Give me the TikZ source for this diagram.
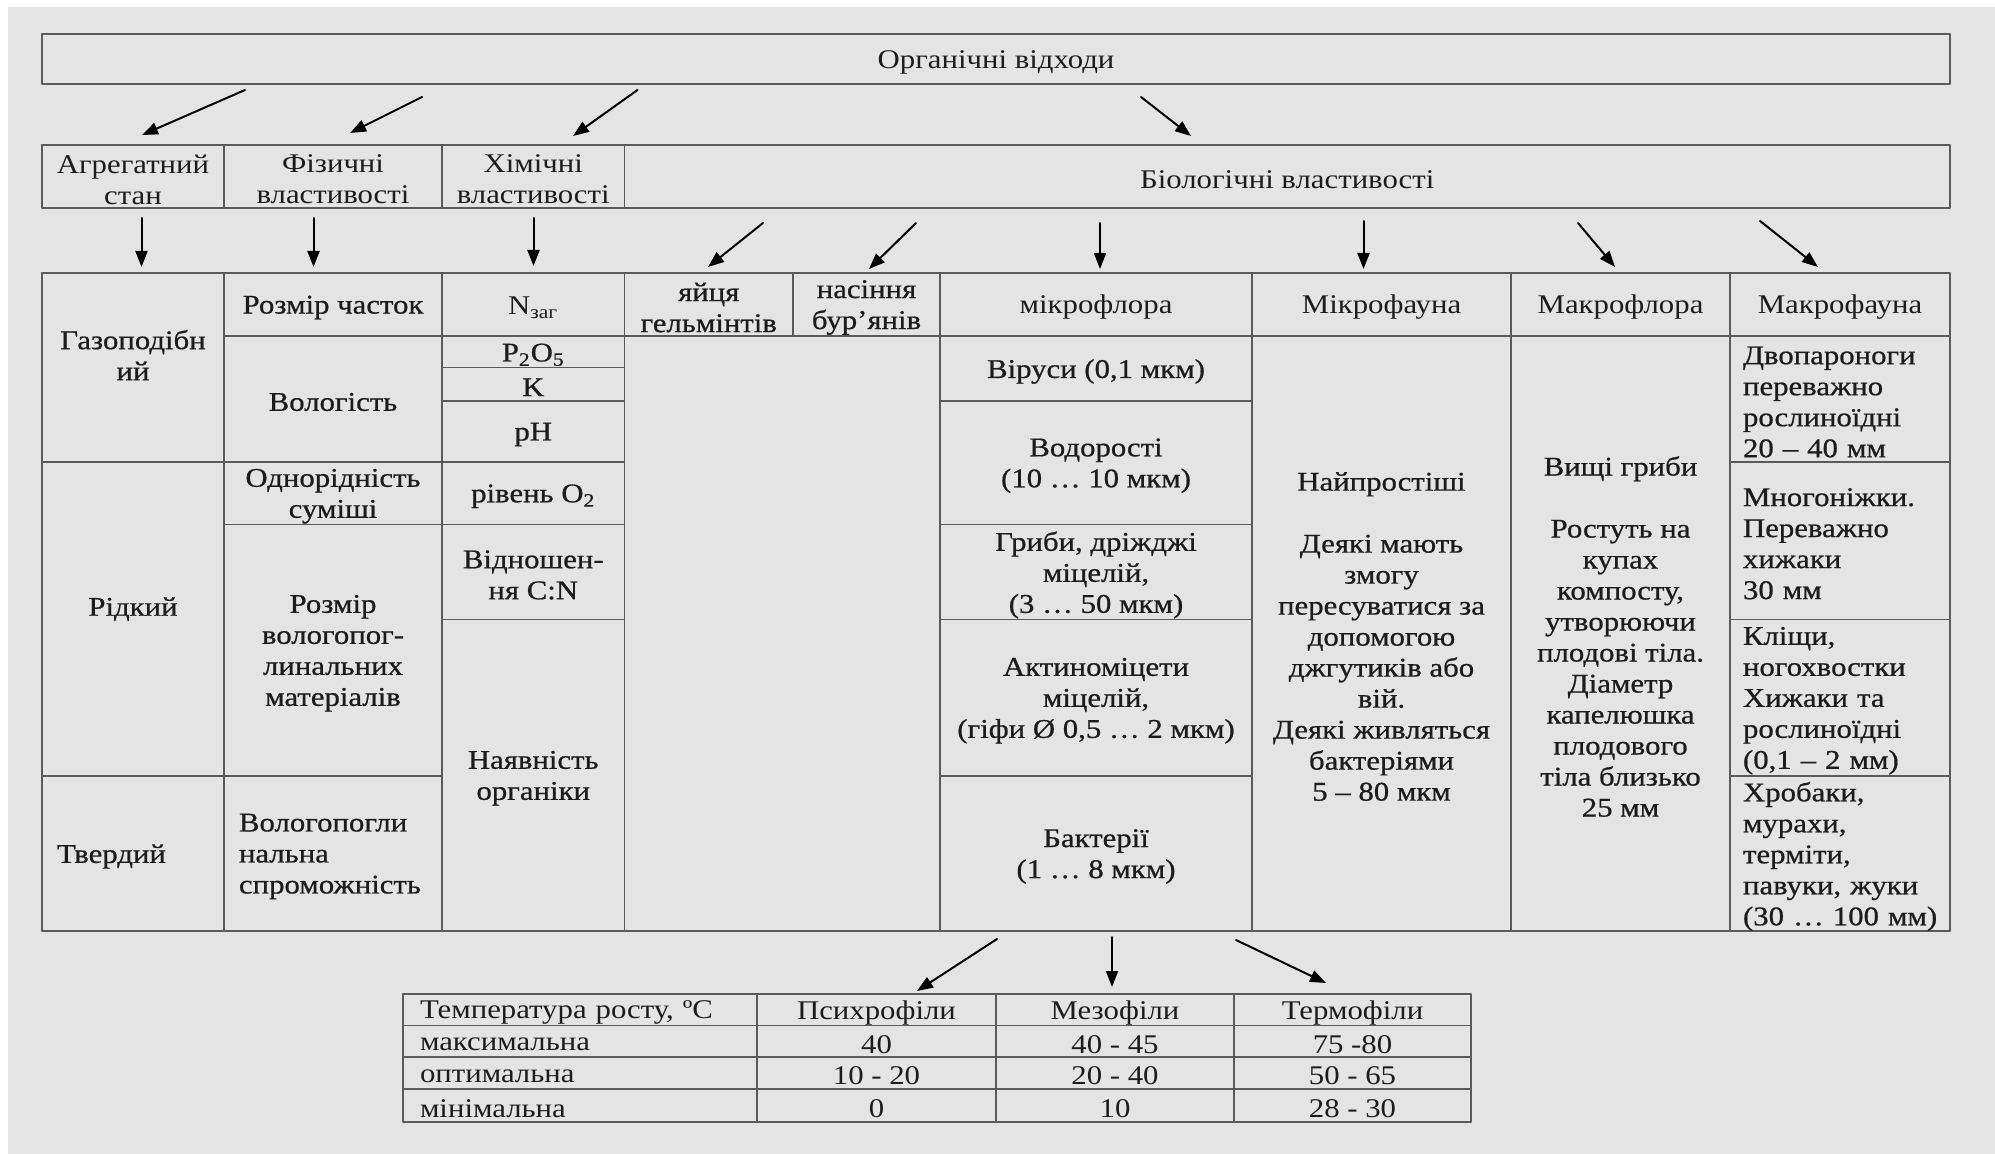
\documentclass[tikz,border=0pt]{standalone}
\usepackage{fontspec}
\setmainfont{Liberation Serif}[FakeStretch=1.14]
\newfontfamily\heavyfont{Liberation Serif}[FakeStretch=1.14,FakeBold=0.7]
\usetikzlibrary{arrows.meta}
\definecolor{bggray}{HTML}{E4E4E4}
\definecolor{linegray}{HTML}{5A5A5A}
\definecolor{inkc}{HTML}{1C1C1C}
% one table cell: [opts]{name}{x1}{y1}{x2}{y2}{text}
\newcommand\cellbox[7][]{%
  \draw[frame] (#3,#4) rectangle (#5,#6);
  \node[cell,minimum width={(#5-#3)*0.5pt},minimum height={(#6-#4)*0.5pt},#1]
    (#2) at ({(#3+#5)/2},{(#4+#6)/2+3}) {#7};}
\begin{document}
\begin{tikzpicture}[x=0.5pt,y=-0.5pt,line cap=round,line join=round,
  frame/.style={draw=linegray,line width=0.9pt},
  cell/.style={inner sep=0pt,align=center,text=inkc,
    font=\fontsize{13.5}{15.5}\selectfont},
  heavy/.style={font=\fontsize{13.5}{15.5}\selectfont\heavyfont},
  lcell/.style={text width=#1,align=left},
  fauna/.style={heavy,lcell=104pt,xshift=3.5pt},
  arr/.style={-{Triangle[length=8pt,width=6pt]},line width=1pt,draw=black}]
  \useasboundingbox (0,0) rectangle (1995,1154);
  \fill[white] (0,0) rectangle (1995,1154);
  \fill[bggray] (8,7) rectangle (1995,1154);

  % top levels
  \cellbox{org}{42}{34}{1950}{84}{Органічні відходи}
  \cellbox{agr}{42}{145}{224}{208}{Агрегатний\\стан}
  \cellbox{fiz}{224}{145}{442}{208}{Фізичні\\властивості}
  \cellbox{him}{442}{145}{624.5}{208}{Хімічні\\властивості}
  \cellbox{bio}{624.5}{145}{1950}{208}{Біологічні властивості}

  % aggregate state
  \cellbox[heavy]{gaz}{42}{273}{224}{462}{Газоподібн\\ий\\ }
  \cellbox[heavy]{rid}{42}{462}{224}{776}{Рідкий\\ }
  \cellbox[heavy,lcell=76pt]{tverd}{42}{776}{224}{931}{Твердий}
  % physical
  \cellbox[heavy]{rozm}{224}{273}{442}{336}{Розмір часток}
  \cellbox[heavy]{volog}{224}{336}{442}{462}{Вологість}
  \cellbox[heavy]{odnor}{224}{462}{442}{524.5}{Однорідність\\суміші}
  \cellbox[heavy]{rmat}{224}{524.5}{442}{776}{Розмір\\вологопог-\\линальних\\матеріалів}
  \cellbox[heavy,lcell=94pt]{vspr}{224}{776}{442}{931}{Вологопогли\\нальна\\спроможність}
  % chemical
  \cellbox{nzag}{442}{273}{624.5}{336}{N\textsubscript{заг}}
  \cellbox[heavy]{pfive}{442}{336}{624.5}{367.5}{P\textsubscript{2}O\textsubscript{5}}
  \cellbox[heavy]{kal}{442}{367.5}{624.5}{401}{K}
  \cellbox[heavy]{ph}{442}{401}{624.5}{462}{pH}
  \cellbox[heavy]{oxy}{442}{462}{624.5}{524.5}{рівень O\textsubscript{2}}
  \cellbox[heavy]{cnrat}{442}{524.5}{624.5}{619.5}{Відношен-\\ня C:N}
  \cellbox[heavy]{orgn}{442}{619.5}{624.5}{931}{Наявність\\органіки}
  % biological
  \cellbox[heavy]{eggs}{624.5}{273}{793}{336}{яйця\\гельмінтів}
  \cellbox[heavy]{seeds}{793}{273}{940}{336}{насіння\\бур’янів}
  \cellbox{blank}{624.5}{336}{940}{931}{}
  \cellbox{mflora}{940}{273}{1252}{336}{мікрофлора}
  \cellbox[heavy]{viru}{940}{336}{1252}{401}{Віруси (0,1 мкм)}
  \cellbox[heavy]{vodor}{940}{401}{1252}{524.5}{Водорості\\(10 … 10 мкм)}
  \cellbox[heavy]{gryby}{940}{524.5}{1252}{619.5}{Гриби, дріжджі\\міцелій,\\(3 … 50 мкм)}
  \cellbox[heavy]{aktin}{940}{619.5}{1252}{776}{Актиноміцети\\міцелій,\\(гіфи Ø 0,5 … 2 мкм)}
  \cellbox[heavy]{bakt}{940}{776}{1252}{931}{Бактерії\\(1 … 8 мкм)}
  \cellbox{mfauna}{1252}{273}{1511}{336}{Мікрофауна}
  \cellbox[heavy]{mfaunat}{1252}{336}{1511}{931}{Найпростіші\\[15.5pt]Деякі мають\\змогу\\пересуватися за\\допомогою\\джгутиків або\\вій.\\Деякі живляться\\бактеріями\\5 – 80 мкм}
  \cellbox{mafl}{1511}{273}{1730}{336}{Макрофлора}
  \cellbox[heavy]{maflt}{1511}{336}{1730}{931}{Вищі гриби\\[15.5pt]Ростуть на\\купах\\компосту,\\утворюючи\\плодові тіла.\\Діаметр\\капелюшка\\плодового\\тіла близько\\25 мм}
  \cellbox{mafa}{1730}{273}{1950}{336}{Макрофауна}
  \cellbox[fauna]{dvop}{1730}{336}{1950}{462}{Двопароноги\\переважно\\рослиноїдні\\20 – 40 мм}
  \cellbox[fauna]{mnog}{1730}{462}{1950}{619.5}{Многоніжки.\\Переважно\\хижаки\\30 мм\\ }
  \cellbox[fauna]{klis}{1730}{619.5}{1950}{776}{Кліщи,\\ногохвостки\\Хижаки та\\рослиноїдні\\(0,1 – 2 мм)}
  \cellbox[fauna]{hrob}{1730}{776}{1950}{931}{Хробаки,\\мурахи,\\терміти,\\павуки, жуки\\(30 … 100 мм)}

  % growth temperature
  \cellbox[lcell=160pt]{tmp}{403}{994}{757}{1025.5}{Температура росту, ºС}
  \cellbox{psy}{757}{994}{996}{1025.5}{Психрофіли}
  \cellbox{mezo}{996}{994}{1234}{1025.5}{Мезофіли}
  \cellbox{term}{1234}{994}{1471}{1025.5}{Термофіли}
  \cellbox[lcell=160pt]{tmax}{403}{1025.5}{757}{1057}{максимальна}
  \cellbox{pmax}{757}{1025.5}{996}{1057}{40}
  \cellbox{mmax}{996}{1025.5}{1234}{1057}{40 - 45}
  \cellbox{hmax}{1234}{1025.5}{1471}{1057}{75 -80}
  \cellbox[lcell=160pt]{topt}{403}{1057}{757}{1089}{оптимальна}
  \cellbox{popt}{757}{1057}{996}{1089}{10 - 20}
  \cellbox{mopt}{996}{1057}{1234}{1089}{20 - 40}
  \cellbox{hopt}{1234}{1057}{1471}{1089}{50 - 65}
  \cellbox[lcell=160pt]{tmin}{403}{1089}{757}{1122}{мінімальна}
  \cellbox{pmin}{757}{1089}{996}{1122}{0}
  \cellbox{mmin}{996}{1089}{1234}{1122}{10}
  \cellbox{hmin}{1234}{1089}{1471}{1122}{28 - 30}

  % arrows
  \foreach \n/\xa/\ya/\xb/\yb in {
      ta/245/90/142/135, tb/422/97/350/133, tc/637.5/90/573/136, td/1141/97/1191/136,
      ma/141.5/218/141.5/267, mb/313.5/218/313.5/267, mc/533.5/218/533.5/266,
      md/763/223/708/267, me/916/223/869/269, mf/1100/223/1100/269,
      mg/1363.5/221/1363.5/269, mh/1578/223/1615/267, mi/1760/221/1818/267,
      ba/997/939/917/991, bb/1112/937/1112/987, bc/1236/940/1326/983}{
    \coordinate (\n s) at (\xa,\ya);
    \coordinate (\n e) at (\xb,\yb);
    \draw[arr] (\n s) -- (\n e);
  }
\end{tikzpicture}
\end{document}
